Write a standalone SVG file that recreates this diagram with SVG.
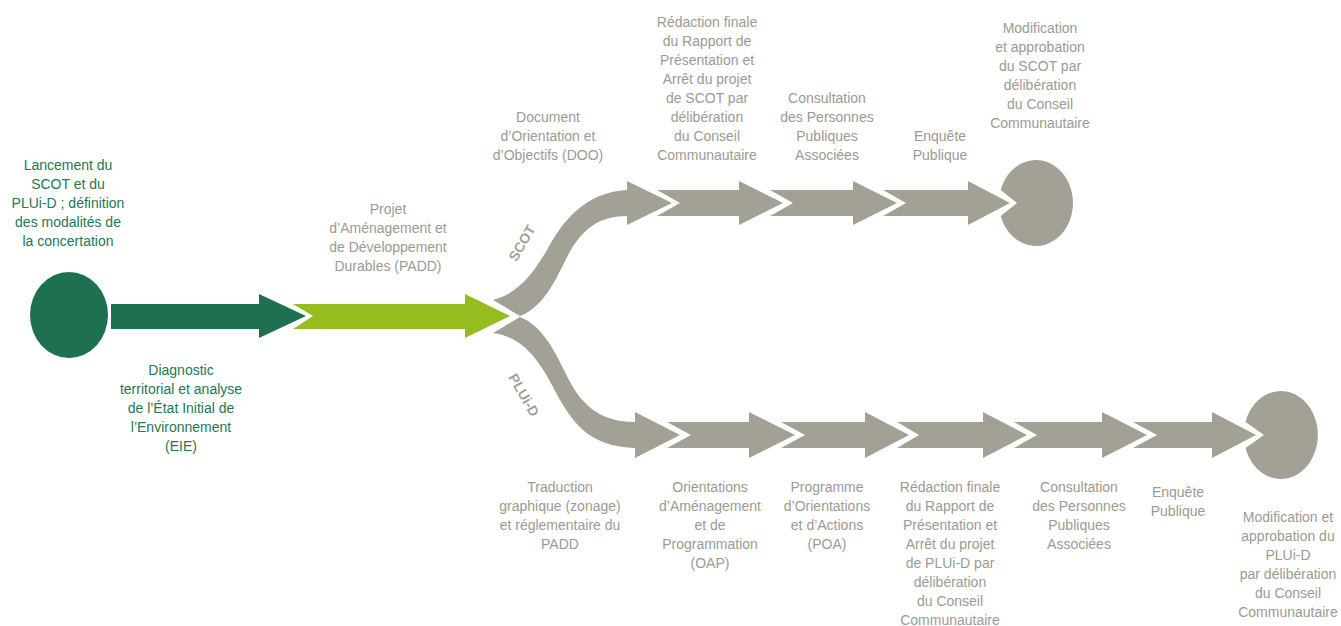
<svg xmlns="http://www.w3.org/2000/svg" width="1341" height="626" viewBox="0 0 1341 626">
<style>
.dg{fill:#1e7150}
.lg{fill:#95bd1f}
.gr{fill:#a3a195}
.t{font-family:"Liberation Sans",Arial,sans-serif;font-size:14px;text-anchor:middle}
.tg{fill:#217a53}
.tx{fill:#9c9a92}
.lbl{font-family:"Liberation Sans",Arial,sans-serif;font-size:14px;font-weight:bold;fill:#a3a195;text-anchor:middle}
</style>
<rect width="1341" height="626" fill="#ffffff"/>

<g id="start">
<ellipse class="dg" cx="69" cy="315" rx="39" ry="43"/>
<text class="t tg"><tspan x="68" y="170">Lancement du</tspan><tspan x="68" y="189">SCOT et du</tspan><tspan x="68" y="208">PLUi-D ; définition</tspan><tspan x="68" y="227">des modalités de</tspan><tspan x="68" y="246">la concertation</tspan></text>
</g>

<g id="diagnostic">
<polygon class="dg" points="111,304 259,304 259,294 306,316 259,338 259,329 111,329"/>
<text class="t tg"><tspan x="181" y="375">Diagnostic</tspan><tspan x="181" y="394">territorial et analyse</tspan><tspan x="181" y="413">de l’État Initial de</tspan><tspan x="181" y="432">l’Environnement</tspan><tspan x="181" y="451">(EIE)</tspan></text>
</g>

<g id="padd">
<polygon class="lg" points="293,304 465,304 465,294 510,316 465,338 465,329 293,329 313,316"/>
<text class="t tx"><tspan x="388" y="214">Projet</tspan><tspan x="388" y="233">d’Aménagement et</tspan><tspan x="388" y="252">de Développement</tspan><tspan x="388" y="271">Durables (PADD)</tspan></text>
</g>

<g id="connectors">
<path id="branch-scot" class="gr" d="M493,300 C520,293 535,270 547,250 C562,222 585,192 627,190 L627,181 L672,203 L627,225 L627,216 C600,216 585,228 572,248 C558,272 548,305 520,316 Z"/>
<path id="branch-plui" class="gr" d="M520,317 C540,325 552,345 565,372 C580,405 600,422 635,422 L635,412 L680,435 L635,458 L635,448 C590,446 575,425 560,400 C545,372 530,338 493,333 Z"/>
<text class="lbl" transform="translate(522,243) rotate(-60)" y="5">SCOT</text>
<text class="lbl" transform="translate(524,395) rotate(60)" y="5">PLUi-D</text>
</g>

<g id="scot-doo">
<text class="t tx"><tspan x="548" y="122">Document</tspan><tspan x="548" y="141">d’Orientation et</tspan><tspan x="548" y="160">d’Objectifs (DOO)</tspan></text>
</g>

<g id="scot-redaction">
<polygon class="gr" points="657,190 739,190 739,181 783,203 739,225 739,216 657,216 680,203"/>
<text class="t tx"><tspan x="707" y="27">Rédaction finale</tspan><tspan x="707" y="46">du Rapport de</tspan><tspan x="707" y="65">Présentation et</tspan><tspan x="707" y="84">Arrêt du projet</tspan><tspan x="707" y="103">de SCOT par</tspan><tspan x="707" y="122">délibération</tspan><tspan x="707" y="141">du Conseil</tspan><tspan x="707" y="160">Communautaire</tspan></text>
</g>

<g id="scot-consultation">
<polygon class="gr" points="770,190 853,190 853,181 897,203 853,225 853,216 770,216 793,203"/>
<text class="t tx"><tspan x="827" y="103">Consultation</tspan><tspan x="827" y="122">des Personnes</tspan><tspan x="827" y="141">Publiques</tspan><tspan x="827" y="160">Associées</tspan></text>
</g>

<g id="scot-enquete">
<polygon class="gr" points="883,190 968,190 968,181 1010,203 968,225 968,216 883,216 906,203"/>
<text class="t tx"><tspan x="940" y="141">Enquête</tspan><tspan x="940" y="160">Publique</tspan></text>
</g>

<g id="scot-approbation">
<path class="gr" d="M1000.7,190 A37,43 0 1 1 1000.7,216 L1017,203 Z"/>
<text class="t tx"><tspan x="1040" y="33">Modification</tspan><tspan x="1040" y="52">et approbation</tspan><tspan x="1040" y="71">du SCOT par</tspan><tspan x="1040" y="90">délibération</tspan><tspan x="1040" y="109">du Conseil</tspan><tspan x="1040" y="128">Communautaire</tspan></text>
</g>

<g id="plui-traduction">
<text class="t tx"><tspan x="560" y="492">Traduction</tspan><tspan x="560" y="511">graphique (zonage)</tspan><tspan x="560" y="530">et réglementaire du</tspan><tspan x="560" y="549">PADD</tspan></text>
</g>

<g id="plui-oap">
<polygon class="gr" points="667,422 749,422 749,412 795,435 749,458 749,448 667,448 691,435"/>
<text class="t tx"><tspan x="710" y="492">Orientations</tspan><tspan x="710" y="511">d’Aménagement</tspan><tspan x="710" y="530">et de</tspan><tspan x="710" y="549">Programmation</tspan><tspan x="710" y="568">(OAP)</tspan></text>
</g>

<g id="plui-poa">
<polygon class="gr" points="781,422 865,422 865,412 909,435 865,458 865,448 781,448 805,435"/>
<text class="t tx"><tspan x="827" y="492">Programme</tspan><tspan x="827" y="511">d’Orientations</tspan><tspan x="827" y="530">et d’Actions</tspan><tspan x="827" y="549">(POA)</tspan></text>
</g>

<g id="plui-redaction">
<polygon class="gr" points="897,422 983,422 983,412 1027,435 983,458 983,448 897,448 919,435"/>
<text class="t tx"><tspan x="950" y="492">Rédaction finale</tspan><tspan x="950" y="511">du Rapport de</tspan><tspan x="950" y="530">Présentation et</tspan><tspan x="950" y="549">Arrêt du projet</tspan><tspan x="950" y="568">de PLUi-D par</tspan><tspan x="950" y="587">délibération</tspan><tspan x="950" y="606">du Conseil</tspan><tspan x="950" y="625">Communautaire</tspan></text>
</g>

<g id="plui-consultation">
<polygon class="gr" points="1014,422 1102,422 1102,412 1147,435 1102,458 1102,448 1014,448 1037,435"/>
<text class="t tx"><tspan x="1079" y="492">Consultation</tspan><tspan x="1079" y="511">des Personnes</tspan><tspan x="1079" y="530">Publiques</tspan><tspan x="1079" y="549">Associées</tspan></text>
</g>

<g id="plui-enquete">
<polygon class="gr" points="1133,422 1212,422 1212,412 1256,435 1212,458 1212,448 1133,448 1157,435"/>
<text class="t tx"><tspan x="1178" y="497">Enquête</tspan><tspan x="1178" y="516">Publique</tspan></text>
</g>

<g id="plui-approbation">
<path class="gr" d="M1245.5,422 A37,44 0 1 1 1245.5,448 L1264,435 Z"/>
<text class="t tx"><tspan x="1288" y="522">Modification et</tspan><tspan x="1288" y="541">approbation du</tspan><tspan x="1288" y="560">PLUi-D</tspan><tspan x="1288" y="579">par délibération</tspan><tspan x="1288" y="598">du Conseil</tspan><tspan x="1288" y="617">Communautaire</tspan></text>
</g>
</svg>
